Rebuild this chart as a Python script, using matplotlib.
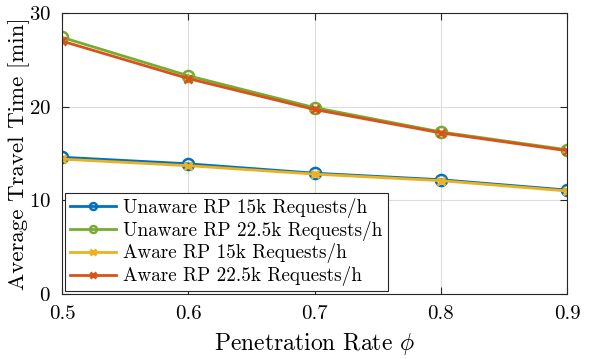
import matplotlib
matplotlib.use("Agg")
import matplotlib.pyplot as plt

# ============================
# DATA
# ============================
penetration = [0.5, 0.6, 0.7, 0.8, 0.9]
unaware_15k = [14.6, 13.9, 12.9, 12.2, 11.1]
unaware_22k = [27.4, 23.3, 19.9, 17.3, 15.4]
aware_15k = [14.4, 13.7, 12.8, 12.1, 11.0]
aware_22k = [27.0, 23.0, 19.7, 17.2, 15.3]

labels = ["Unaware RP 15k Requests/h",
          "Unaware RP 22.5k Requests/h",
          "Aware RP 15k Requests/h",
          "Aware RP 22.5k Requests/h"]

plt.rcParams['font.family'] = 'serif'
plt.rcParams['font.serif'] = ['cmr10', 'DejaVu Serif']
plt.rcParams['mathtext.fontset'] = 'cm'
plt.rcParams['axes.formatter.use_mathtext'] = True

fig = plt.figure(figsize=(5.98, 3.59), dpi=100)
ax = fig.add_axes([62/598, 1 - 294/359, (567-62)/598, (294-13)/359])

ax.plot(penetration, unaware_15k, color='#0072BD', lw=2, marker='o', ms=8,
        mfc='none', mew=1.8, label=labels[0])
ax.plot(penetration, unaware_22k, color='#77AC30', lw=2, marker='o', ms=8,
        mfc='none', mew=1.8, label=labels[1])
ax.plot(penetration, aware_15k, color='#EDB120', lw=2, marker='x', ms=6,
        mew=2, label=labels[2])
ax.plot(penetration, aware_22k, color='#D95319', lw=2, marker='x', ms=6,
        mew=2, label=labels[3])

ax.set_xlim(0.5, 0.9)
ax.set_ylim(0, 30)
ax.set_xticks([0.5, 0.6, 0.7, 0.8, 0.9])
ax.set_xticklabels(['0.5', '0.6', '0.7', '0.8', '0.9'])
ax.set_yticks([0, 10, 20, 30])
ax.grid(True, color='#dddddd', lw=0.8)
ax.set_axisbelow(True)
for s in ax.spines.values():
    s.set_color('#262626')
    s.set_linewidth(0.8)
ax.tick_params(direction='in', top=True, right=True, labelsize=15,
               color='#262626', length=5, pad=8)

ax.set_xlabel(r'Penetration Rate $\phi$', fontsize=17, labelpad=6)
ax.set_ylabel('Average Travel Time [min]', fontsize=16.5)
ax.yaxis.set_label_coords(-0.064, 0.5)

leg = ax.legend(loc='lower left', fontsize=13.8, fancybox=False, framealpha=1,
                edgecolor='#262626', borderaxespad=0.15, handlelength=2.4,
                labelspacing=0.15, borderpad=0.25, handletextpad=0.4)
leg.get_frame().set_linewidth(0.8)
for h in leg.legend_handles:
    h.set_markersize(5)

fig.savefig('out.png', dpi=100)
